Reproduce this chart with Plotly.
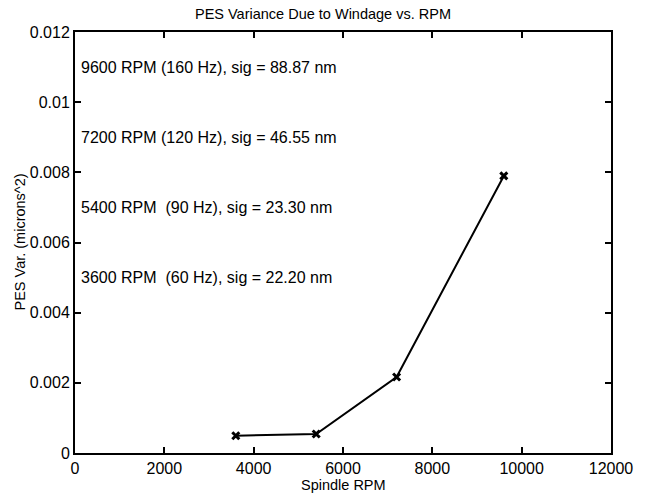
import plotly.graph_objects as go

# spindle speed vs PES variance (microns^2)
rpm = [3600, 5400, 7200, 9600]
pes_var = [0.000493, 0.000543, 0.002167, 0.007898]

notes = [
    "9600 RPM (160 Hz), sig = 88.87 nm",
    "7200 RPM (120 Hz), sig = 46.55 nm",
    "5400 RPM  (90 Hz), sig = 23.30 nm",
    "3600 RPM  (60 Hz), sig = 22.20 nm",
]
note_y = [0.011, 0.009, 0.007, 0.005]

x_ticks = [0, 2000, 4000, 6000, 8000, 10000, 12000]
x_labels = ["0", "2000", "4000", "6000", "8000", "10000", "12000"]
y_ticks = [0, 0.002, 0.004, 0.006, 0.008, 0.01, 0.012]
y_labels = ["0", "0.002", "0.004", "0.006", "0.008", "0.01", "0.012"]

font = "Liberation Sans, Arial, Helvetica, sans-serif"
W, H = 646, 494
L, R, T, B = 75, 35, 32, 41
plot_w, plot_h = W - L - R, H - T - B

fig = go.Figure()
fig.add_trace(go.Scatter(
    x=rpm, y=pes_var, mode="lines+markers",
    line=dict(color="black", width=2),
    marker=dict(symbol="x-thin", size=7, color="black",
                line=dict(color="black", width=3)),
    showlegend=False,
))

for txt, yy in zip(notes, note_y):
    fig.add_annotation(x=100, y=yy, text=txt, showarrow=False,
                       xanchor="left", yanchor="middle",
                       font=dict(size=16, color="black", family=font))

# axis titles as annotations so they sit where the reference has them
fig.add_annotation(xref="paper", yref="paper", x=0.5, y=-32 / plot_h,
                   text="Spindle RPM", showarrow=False,
                   xanchor="center", yanchor="middle",
                   font=dict(size=14.5, color="black", family=font))
fig.add_annotation(xref="paper", yref="paper", x=(19 - L) / plot_w, y=0.5,
                   text="PES Var. (microns^2)", showarrow=False, textangle=-90,
                   xanchor="center", yanchor="middle",
                   font=dict(size=14.5, color="black", family=font))

axis = dict(showgrid=False, zeroline=False, showline=True, linecolor="black",
            linewidth=2, mirror="ticks", ticks="inside", ticklen=6,
            tickwidth=2, tickcolor="black", automargin=False,
            tickfont=dict(size=16, color="black", family=font))

fig.update_xaxes(range=[0, 12000], tickvals=x_ticks, ticktext=x_labels, **axis)
fig.update_yaxes(range=[0, 0.012], tickvals=y_ticks, ticktext=y_labels, **axis)

fig.update_layout(
    width=W, height=H,
    margin=dict(l=L, r=R, t=T, b=B),
    paper_bgcolor="white", plot_bgcolor="white",
    title=dict(text="PES Variance Due to Windage vs. RPM",
               x=0.5, xanchor="center", y=1 - 14 / H, yanchor="middle",
               yref="container",
               font=dict(size=14.5, color="black", family=font)),
)

# drop the default page margin so the figure sits at the window's corner
fig.write_html("out.html", config={"displayModeBar": False},
               post_script="document.body.style.margin='0';")
